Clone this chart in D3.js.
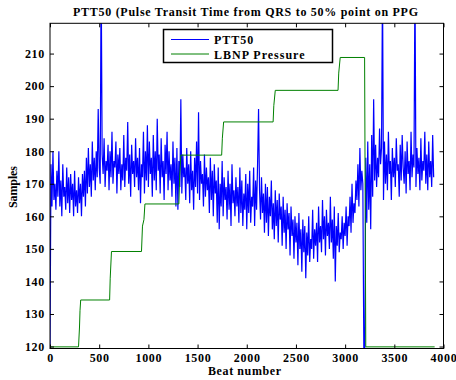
<!DOCTYPE html>
<html>
<head>
<meta charset="utf-8">
<script src="https://cdn.jsdelivr.net/npm/d3@7"></script>
<style>
  html, body { margin: 0; padding: 0; background: #fff; }
  svg { display: block; }
  text { font-family: "Liberation Serif", "Times New Roman", serif; font-weight: bold; fill: #000; }
</style>
</head>
<body>
<svg id="chart" width="456" height="380"></svg>
<script>
// ---- Data ----
const titleText = "PTT50 (Pulse Transit Time from QRS to 50% point on PPG";
const xLabel = "Beat number";
const yLabel = "Samples";
const xTicks = [0, 500, 1000, 1500, 2000, 2500, 3000, 3500, 4000];
const yTicks = [120, 130, 140, 150, 160, 170, 180, 190, 200, 210];
const seriesNames = ["PTT50", "LBNP Pressure"];

// PTT50 sampled every 10 beats (beat = index * 10)
const pttStep = 10;
const ptt50 = [
  120, 176, 163, 180, 165, 170, 162, 174, 166, 180,
  163, 171, 160, 176, 166, 169, 162, 175, 164, 172,
  161, 173, 165, 170, 160, 174, 163, 168, 161, 172,
  164, 170, 160, 173, 166, 174, 163, 178, 167, 181,
  169, 176, 166, 183, 171, 178, 168, 180, 172, 193,
  175, 170, 236, 179, 173, 184, 169, 177, 174, 182,
  168, 180, 172, 186, 170, 177, 175, 183, 167, 179,
  173, 181, 168, 176, 171, 185, 169, 178, 174, 189,
  170, 179, 166, 182, 173, 177, 169, 184, 172, 178,
  168, 181, 164, 176, 172, 186, 167, 180, 171, 188,
  169, 183, 173, 178, 166, 185, 171, 180, 168, 190,
  174, 179, 167, 184, 172, 177, 165, 182, 173, 186,
  168, 180, 171, 176, 166, 183, 170, 178, 163, 181,
  162, 177, 169, 196, 167, 179, 172, 175, 165, 181,
  170, 176, 164, 180, 168, 174, 162, 178, 169, 183,
  167, 192, 165, 177, 170, 173, 163, 179, 166, 175,
  168, 172, 161, 178, 165, 174, 160, 176, 167, 171,
  158, 175, 156, 170, 163, 177, 160, 172, 165, 169,
  159, 174, 162, 170, 157, 176, 164, 168, 160, 172,
  163, 169, 158, 175, 161, 171, 157, 167, 162, 173,
  156, 170, 161, 174, 158, 166, 163, 175, 157, 171,
  162, 176, 193, 168, 159, 172, 161, 167, 155, 170,
  158, 169, 154, 166, 160, 171, 156, 164, 153, 168,
  157, 165, 152, 167, 159, 163, 151, 166, 155, 162,
  150, 164, 156, 161, 148, 163, 154, 159, 147, 160,
  152, 158, 145, 161, 150, 156, 143, 159, 149, 157,
  141, 155, 148, 160, 146, 153, 150, 162, 147, 156,
  151, 158, 146, 163, 152, 157, 149, 165, 153, 160,
  148, 162, 154, 158, 150, 166, 152, 159, 147, 163,
  140, 157, 151, 161, 149, 155, 153, 160, 150, 158,
  154, 163, 151, 160, 157, 166, 155, 170, 158, 164,
  161, 171, 165, 176, 163, 181, 168, 174, 170, 119.5,
  119.5, 178, 158, 183, 162, 176, 156, 185, 166, 196,
  171, 182, 169, 178, 172, 187, 176, 181, 232, 165,
  183, 170, 179, 168, 186, 173, 177, 165, 181, 172,
  178, 169, 184, 174, 176, 166, 182, 171, 185, 175,
  170, 180, 167, 183, 173, 177, 168, 186, 172, 179,
  175, 234, 169, 181, 173, 178, 168, 184, 171, 177,
  174, 186, 170, 179, 168, 183, 172, 177, 169, 185,
  172
];

// LBNP pressure (step profile)
const lbnpBeats  = [0, 290, 300, 305, 312, 606, 612, 625, 930, 940, 955, 965, 1310, 1318, 1330, 1745, 1752, 1765, 2268, 2275, 2290, 2928, 2935, 2950, 3198, 3210, 3910];
const lbnpValues = [119.9, 119.9, 126, 131, 134.3, 134.3, 141, 149.2, 149.2, 157, 159, 163.8, 163.8, 172, 178.8, 178.8, 184, 189, 189, 194, 198.7, 198.7, 204, 208.8, 208.8, 119.9, 119.9];

const colors = ["#0000ff", "#008000"];

// ---- Layout ----
const svg = d3.select("#chart");
const plot = { left: 50, right: 443.5, top: 23.3, bottom: 348.5 };

const x = d3.scaleLinear().domain([0, 4000]).range([plot.left, plot.right]);
const y = d3.scaleLinear().domain([119.4, 219.3]).range([plot.bottom, plot.top]);

svg.append("defs").append("clipPath").attr("id", "clip")
  .append("rect")
  .attr("x", plot.left).attr("y", plot.top)
  .attr("width", plot.right - plot.left).attr("height", plot.bottom - plot.top);

const g = svg.append("g");

// series
const pttData = ptt50.map((v, i) => [i * pttStep, v]);
const lbnpData = lbnpBeats.map((b, i) => [b, lbnpValues[i]]);
const line = d3.line().x(d => x(d[0])).y(d => y(d[1]));

g.append("path").datum(pttData)
  .attr("clip-path", "url(#clip)")
  .attr("fill", "none").attr("stroke", colors[0]).attr("stroke-width", 1.2)
  .attr("stroke-linejoin", "miter")
  .attr("d", line);

g.append("path").datum(lbnpData)
  .attr("clip-path", "url(#clip)")
  .attr("fill", "none").attr("stroke", colors[1]).attr("stroke-width", 1)
  .attr("d", line);

// axes (ticks inward, box on)
const tickLen = 4;
const axB = svg.append("g").attr("transform", `translate(0,${plot.bottom})`)
  .call(d3.axisBottom(x).tickValues(xTicks).tickSize(-tickLen).tickPadding(5).tickFormat(d3.format("d")));
const axT = svg.append("g").attr("transform", `translate(0,${plot.top})`)
  .call(d3.axisTop(x).tickValues(xTicks).tickSize(-tickLen).tickFormat(""));
const axL = svg.append("g").attr("transform", `translate(${plot.left},0)`)
  .call(d3.axisLeft(y).tickValues(yTicks).tickSize(-tickLen).tickPadding(5).tickFormat(d3.format("d")));
const axR = svg.append("g").attr("transform", `translate(${plot.right},0)`)
  .call(d3.axisRight(y).tickValues(yTicks).tickSize(-tickLen).tickFormat(""));

[axB, axT, axL, axR].forEach(a => {
  a.select(".domain").remove();
  a.selectAll(".tick line").attr("stroke", "#000");
  a.selectAll("text").attr("font-size", 12).attr("letter-spacing", "0.7px")
    .style("font-family", '"Liberation Serif", serif').style("font-weight", "bold");
});

svg.append("rect")
  .attr("x", plot.left).attr("y", plot.top)
  .attr("width", plot.right - plot.left).attr("height", plot.bottom - plot.top)
  .attr("fill", "none").attr("stroke", "#000").attr("stroke-width", 1);

// title & labels
svg.append("text").attr("x", 73).attr("y", 16)
  .attr("font-size", 12)
  .attr("textLength", 345).attr("lengthAdjust", "spacing")
  .text(titleText);
svg.append("text").attr("x", 208).attr("y", 375)
  .attr("font-size", 12)
  .attr("textLength", 73).attr("lengthAdjust", "spacing")
  .text(xLabel);
svg.append("text").attr("transform", `translate(17,208) rotate(-90)`)
  .attr("font-size", 12)
  .attr("textLength", 42).attr("lengthAdjust", "spacing")
  .text(yLabel);

// legend
const lg = svg.append("g");
lg.append("rect").attr("x", 163.5).attr("y", 29.5).attr("width", 169).attr("height", 33)
  .attr("fill", "#fff").attr("stroke", "#000").attr("stroke-width", 1.5);
seriesNames.forEach((name, i) => {
  const yy = 39.5 + i * 14.5;
  lg.append("line").attr("x1", 171).attr("x2", 209).attr("y1", yy).attr("y2", yy)
    .attr("stroke", colors[i]).attr("stroke-width", 1);
  lg.append("text").attr("x", 214).attr("y", yy + 4.5).attr("font-size", 12)
    .attr("letter-spacing", "1px").text(name);
});
</script>
</body>
</html>
